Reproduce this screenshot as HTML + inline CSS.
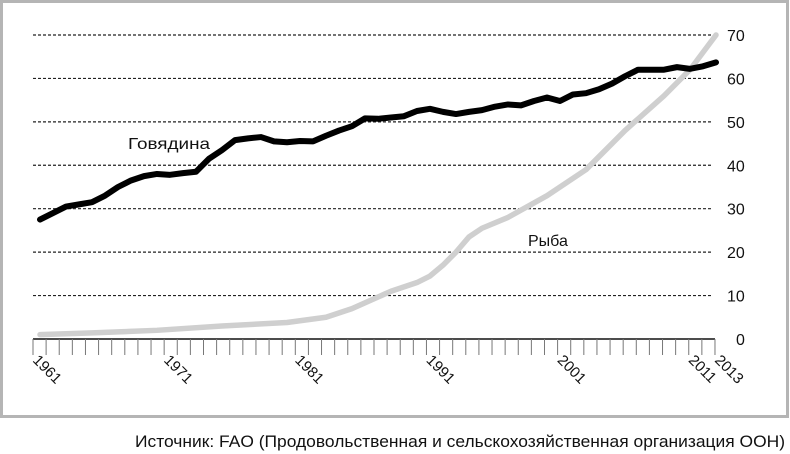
<!DOCTYPE html>
<html><head><meta charset="utf-8"><style>
html,body{margin:0;padding:0;background:#fff;}
body{width:790px;height:454px;overflow:hidden;position:relative;font-family:"Liberation Sans",sans-serif;}
</style></head><body>
<svg id="s" width="790" height="454" xmlns="http://www.w3.org/2000/svg" style="position:absolute;left:0;top:0">
<rect x="1.5" y="1.5" width="786" height="415" fill="#fff" stroke="#b5b5b5" stroke-width="3"/>
<g id="grid" stroke="#222" stroke-width="1.2" stroke-dasharray="3,2"></g>
<g id="yl" font-size="16" fill="#111"></g>
<line x1="33" y1="339" x2="715" y2="339" stroke="#111" stroke-width="1.5"/>
<g id="ticks" stroke="#777" stroke-width="1"></g>
<g id="xl" font-size="15" fill="#111"></g>
<polyline id="fish" fill="none" stroke="#cfcfcf" stroke-width="5.5" stroke-linejoin="round" stroke-linecap="round"/>
<polyline id="beef" fill="none" stroke="#000" stroke-width="6" stroke-linejoin="round" stroke-linecap="round"/>
<text x="128" y="149" font-size="16" fill="#111" textLength="82" lengthAdjust="spacingAndGlyphs">Говядина</text>
<text x="528" y="246" font-size="16" fill="#111">Рыба</text>
<text x="135" y="447" font-size="17" fill="#111" textLength="650" lengthAdjust="spacingAndGlyphs">Источник: FAO (Продовольственная и сельскохозяйственная организация ООН)</text>
</svg>
<script>
var NS="http://www.w3.org/2000/svg";
function el(t,a,p,txt){var e=document.createElementNS(NS,t);for(var k in a)e.setAttribute(k,a[k]);if(txt)e.textContent=txt;document.getElementById(p).appendChild(e);return e;}
function Y(v){return 339-v*4.343;}
for(var v=10;v<=70;v+=10){el('line',{x1:33,x2:713,y1:Y(v),y2:Y(v)},'grid');}
for(var v=0;v<=70;v+=10){el('text',{x:v==0?736:727,y:Y(v)+6},'yl',String(v));}
for(var i=0;i<=52;i++){var x=33+i*13.115;el('line',{x1:x,x2:x,y1:339,y2:355},'ticks');}
var labs=[[1961,0],[1971,10],[1981,20],[1991,30],[2001,40],[2011,50],[2013,52]];
labs.forEach(function(l){var x=33+l[1]*13.115;el('text',{x:0,y:0,transform:'translate('+(x-1)+',361) rotate(45)'},'xl',String(l[0]));});
function X(yr){return 40+(yr-1961)*13.0;}
var beef=[27.5,29,30.5,31,31.5,33,35,36.5,37.5,38,37.8,38.2,38.5,41.5,43.5,45.8,46.2,46.5,45.5,45.3,45.6,45.5,46.8,48,49,50.8,50.7,51,51.3,52.5,53,52.3,51.8,52.3,52.7,53.5,54,53.8,54.8,55.6,54.8,56.3,56.6,57.5,58.8,60.5,62,62,62,62.6,62.2,62.8,63.7];
document.getElementById('beef').setAttribute('points',beef.map(function(v,i){return X(1961+i)+','+Y(v);}).join(' '));
var fish=[[1961,1],[1965,1.4],[1970,2],[1975,3],[1980,3.8],[1983,5],[1985,7],[1988,11],[1990,13],[1991,14.5],[1992,17],[1993,20],[1994,23.5],[1995,25.5],[1997,28],[2000,33],[2003,39],[2006,48],[2009,56],[2011,62],[2013,70]];
document.getElementById('fish').setAttribute('points',fish.map(function(p){return X(p[0])+','+Y(p[1]);}).join(' '));
</script>
</body></html>
